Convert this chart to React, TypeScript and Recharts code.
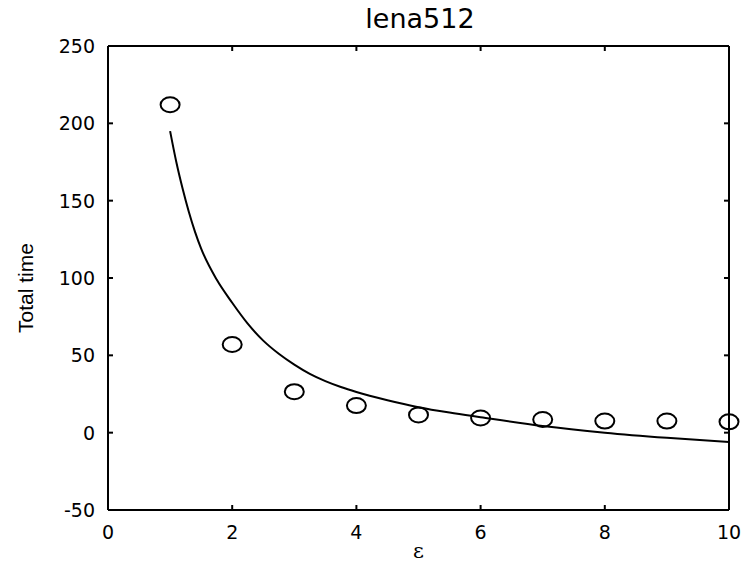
import React from 'react'
import {
  ComposedChart,
  Line,
  Scatter,
  XAxis,
  YAxis,
} from 'recharts'

// measured run times (open circles)
const epsValues = [1, 2, 3, 4, 5, 6, 7, 8, 9, 10]
const totalTimes = [212, 57, 26.5, 17.5, 11.5, 9.5, 8.5, 7.5, 7.5, 7]

// fitted curve
const curveEps = [1, 1.1, 1.2, 1.3, 1.4, 1.5, 1.75, 2, 2.25, 2.5, 2.75, 3, 3.25, 3.5, 3.75, 4, 4.5, 5, 5.5, 6, 7, 8, 9, 10]
const curveTimes = [195, 175, 158, 143, 130, 119, 99, 84, 70.5, 59.5, 51, 44, 38, 33.3, 29.5, 26.3, 21, 16.5, 13, 10, 4.3, 0, -3.3, -6]

const xTicks = [0, 2, 4, 6, 8, 10]
const yTicks = [-50, 0, 50, 100, 150, 200, 250]

const points = epsValues.map((x, i) => ({ x, y: totalTimes[i] }))
const curve = curveEps.map((x, i) => ({ x, y: curveTimes[i] }))

const FONT = 'DejaVu Sans'
const TICK_LEN = 5
const GAP_X = 15
const GAP_Y = 13

const Ring = (props: any) => {
  const { cx, cy } = props
  if (cx == null || cy == null) return null
  return <ellipse cx={cx} cy={cy} rx={9.5} ry={7.5} fill="none" stroke="#000" strokeWidth={2} />
}

// x, y arrive on the axis line (tickSize and tickMargin are 0)
const BottomTick = (props: any) => {
  const { x, y, payload } = props
  return (
    <g>
      <line x1={x} x2={x} y1={y} y2={y - TICK_LEN} stroke="#000" strokeWidth={2} />
      <text x={x} y={y + GAP_X} dy="0.72em" textAnchor="middle" fontFamily={FONT} fontSize={19} fill="#000">
        {payload.value}
      </text>
    </g>
  )
}

const LeftTick = (props: any) => {
  const { x, y, payload } = props
  return (
    <g>
      <line x1={x} x2={x + TICK_LEN} y1={y} y2={y} stroke="#000" strokeWidth={2} />
      <text x={x - GAP_Y} y={y} dy="0.36em" textAnchor="end" fontFamily={FONT} fontSize={19} fill="#000">
        {payload.value}
      </text>
    </g>
  )
}

const TopTick = (props: any) => {
  const { x, y } = props
  return <line x1={x} x2={x} y1={y} y2={y + TICK_LEN} stroke="#000" strokeWidth={2} />
}

const RightTick = (props: any) => {
  const { x, y } = props
  return <line x1={x} x2={x - TICK_LEN} y1={y} y2={y} stroke="#000" strokeWidth={2} />
}

export default function App() {
  return (
    <div style={{ position: 'absolute', left: 0, top: 0, width: 747, height: 566, background: '#fff' }}>
      <ComposedChart
        width={747}
        height={566}
        margin={{ top: 45, right: 17, bottom: 0, left: 48 }}
      >
        <text x={420} y={28} textAnchor="middle" fontFamily={FONT} fontSize={27} fill="#000">
          lena512
        </text>
        <text
          x={33}
          y={288}
          transform="rotate(-90 33 288)"
          textAnchor="middle"
          fontFamily="Liberation Sans"
          fontSize={21}
          fill="#000"
        >
          Total time
        </text>
        <XAxis
          dataKey="x"
          type="number"
          domain={[0, 10]}
          ticks={xTicks}
          height={56}
          tick={<BottomTick />}
          tickSize={0}
          tickMargin={0}
          tickLine={false}
          axisLine={{ stroke: '#000', strokeWidth: 2 }}
          label={{ value: 'ε', position: 'insideBottom', offset: 8, fontFamily: 'DejaVu Serif', fontSize: 21, fill: '#000' }}
        />
        <XAxis
          xAxisId="top"
          dataKey="x"
          orientation="top"
          type="number"
          domain={[0, 10]}
          ticks={xTicks}
          height={1}
          tick={<TopTick />}
          tickSize={0}
          tickMargin={0}
          tickLine={false}
          axisLine={{ stroke: '#000', strokeWidth: 2 }}
        />
        <YAxis
          dataKey="y"
          type="number"
          domain={[-50, 250]}
          ticks={yTicks}
          width={60}
          tick={<LeftTick />}
          tickSize={0}
          tickMargin={0}
          tickLine={false}
          axisLine={{ stroke: '#000', strokeWidth: 2 }}
        />
        <YAxis
          yAxisId="right"
          dataKey="y"
          orientation="right"
          type="number"
          domain={[-50, 250]}
          ticks={yTicks}
          width={1}
          tick={<RightTick />}
          tickSize={0}
          tickMargin={0}
          tickLine={false}
          axisLine={{ stroke: '#000', strokeWidth: 2 }}
        />
        <Line
          data={curve}
          dataKey="y"
          xAxisId="top"
          yAxisId="right"
          type="monotone"
          stroke="#000"
          strokeWidth={2}
          dot={false}
          isAnimationActive={false}
        />
        <Scatter
          data={points}
          dataKey="y"
          shape={<Ring />}
          isAnimationActive={false}
        />
      </ComposedChart>
    </div>
  )
}
